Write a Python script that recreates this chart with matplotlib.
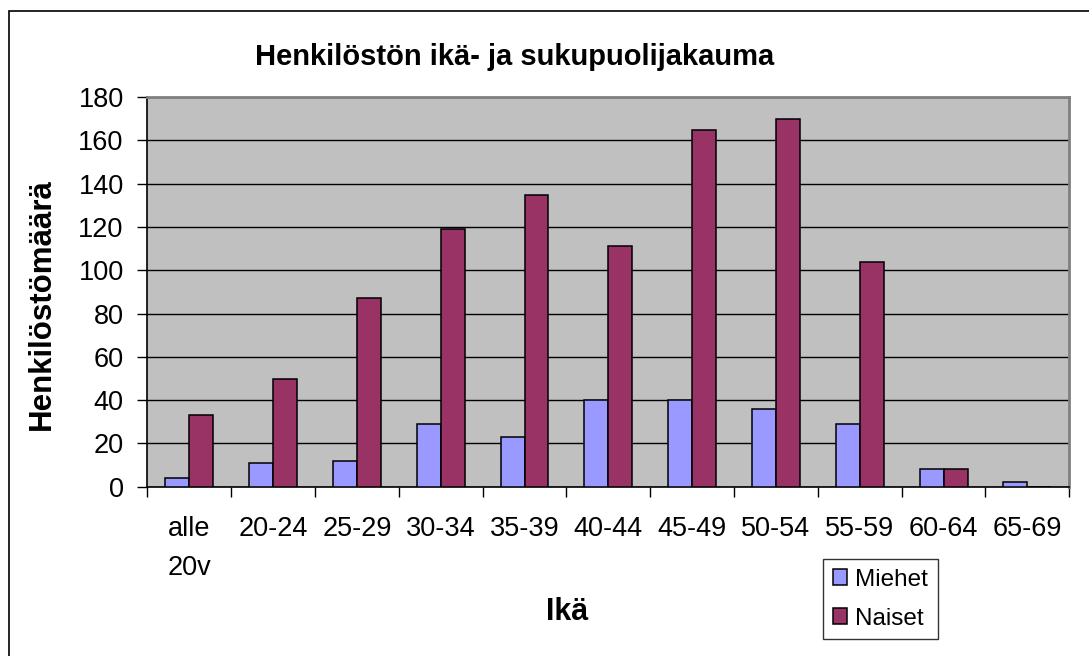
import matplotlib.pyplot as plt
import numpy as np
from matplotlib.patches import Rectangle

# Data
AGE_GROUPS = ["alle\n20v", "20-24", "25-29", "30-34", "35-39", "40-44",
              "45-49", "50-54", "55-59", "60-64", "65-69"]
MIEHET = [4, 11, 12, 29, 23, 40, 40, 36, 29, 8, 2]
NAISET = [33, 50, 87, 119, 135, 111, 165, 170, 104, 8, 0]

MIEHET_COLOR = "#9999FF"
NAISET_COLOR = "#993366"
BAR_WIDTH = 0.286


def main():
    plt.rcParams["font.family"] = ["Liberation Sans", "DejaVu Sans"]

    fig = plt.figure(figsize=(10.89, 6.56), dpi=100)
    ax = fig.add_axes([0.1353, 0.258, 0.8466, 0.594])

    # Outer chart border (cut off on the right and bottom)
    fig.add_artist(Rectangle((9 / 1089, -0.1), 1.2, 1.1 - 11 / 656,
                             transform=fig.transFigure, fill=False,
                             edgecolor="black", linewidth=1.2))

    x = np.arange(len(AGE_GROUPS))
    ax.bar(x - BAR_WIDTH / 2, MIEHET, BAR_WIDTH, color=MIEHET_COLOR,
           edgecolor="black", linewidth=1.1, label="Miehet", zorder=3)
    ax.bar(x + BAR_WIDTH / 2, NAISET, BAR_WIDTH, color=NAISET_COLOR,
           edgecolor="black", linewidth=1.1, label="Naiset", zorder=3)

    # Axes look
    ax.set_facecolor("#C0C0C0")
    ax.set_xlim(-0.5, len(AGE_GROUPS) - 0.5)
    ax.set_ylim(0, 180)
    ax.set_yticks(range(0, 181, 20))
    ax.yaxis.grid(True, color="black", linewidth=1)
    ax.set_axisbelow(True)
    for side in ["top", "right"]:
        ax.spines[side].set_color("#808080")
        ax.spines[side].set_linewidth(2)
    for side in ["left", "bottom"]:
        ax.spines[side].set_linewidth(1.2)

    ax.tick_params(axis="y", direction="out", length=7, width=1,
                   labelsize=19.5, pad=10)
    ax.set_xticks(x)
    ax.set_xticklabels(AGE_GROUPS, fontsize=19.5, linespacing=1.65,
                       va="top")
    ax.set_xticks(np.arange(len(AGE_GROUPS) + 1) - 0.5, minor=True)
    ax.tick_params(axis="x", which="major", length=0, pad=21)
    ax.tick_params(axis="x", which="minor", direction="out", length=7,
                   width=1)

    # Title and axis labels
    fig.text(515 / 1089, 1 - 57 / 656, "Henkilöstön ikä- ja sukupuolijakauma",
             ha="center", va="center", fontsize=21, fontweight="bold")
    fig.text(41.5 / 1089, 1 - 304 / 656, "Henkilöstömäärä", rotation=90,
             ha="center", va="center", fontsize=22.5, fontweight="bold")
    fig.text(567.5 / 1089, 1 - 612 / 656, "Ikä", ha="center", va="center",
             fontsize=22, fontweight="bold")

    # Legend
    leg = fig.legend(loc="upper left",
                     bbox_to_anchor=(823 / 1089, 1 - 559 / 656),
                     fontsize=17.5, frameon=True, fancybox=False,
                     handlelength=0.6, handleheight=0.6, handletextpad=0.33,
                     labelspacing=0.7, borderpad=0.4, borderaxespad=0)
    leg.get_frame().set_edgecolor("black")
    leg.get_frame().set_linewidth(1)

    fig.savefig("out.png", dpi=100)


main()
